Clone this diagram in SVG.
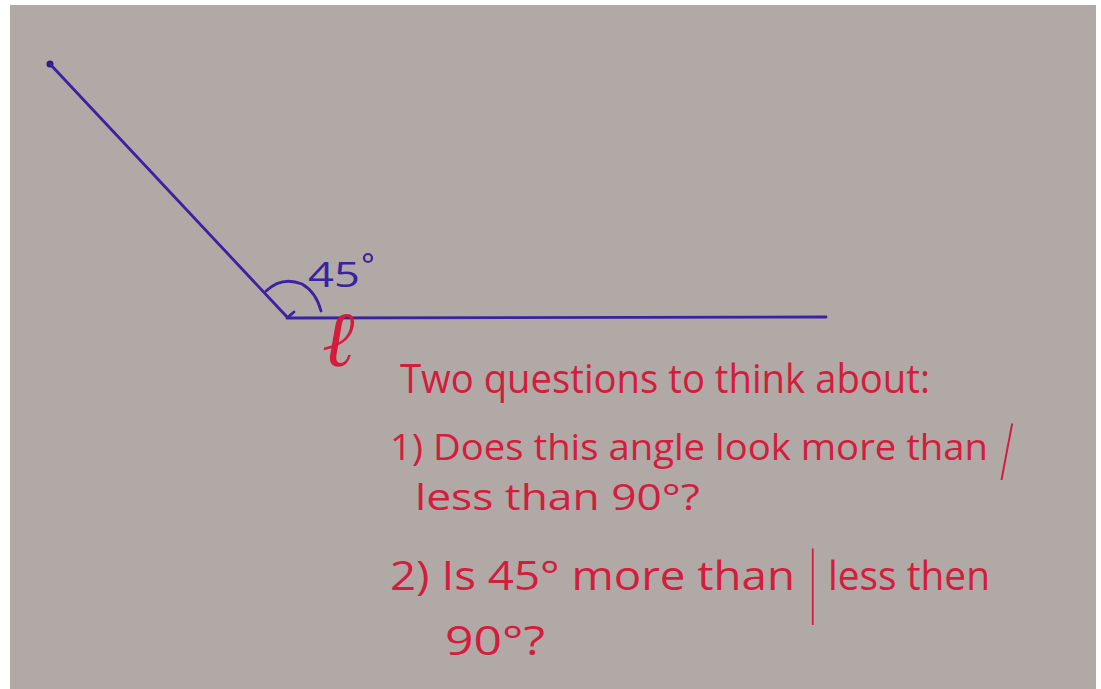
<svg xmlns="http://www.w3.org/2000/svg" width="1101" height="689" viewBox="0 0 1101 689">
<style>
.blue{stroke:#3a22a0;fill:none;stroke-width:2.8;stroke-linecap:round}
.bt{fill:#3a22a0;font-family:"Open Sans","DejaVu Sans",sans-serif;font-size:34px}
.rt{fill:#d41c3c;font-family:"Open Sans","DejaVu Sans",sans-serif;font-size:40px}
.sm{font-size:37px}
.sep{fill:#d41c3c;font-family:"Open Sans","DejaVu Sans",sans-serif;font-size:40px;font-weight:300}
</style>
<rect width="1101" height="689" fill="#ffffff"/>
<rect x="10" y="5" width="1086" height="684" fill="#b0a9a6"/>
<g id="angle">
<circle cx="50" cy="64" r="3.5" fill="#2a1a80"/>
<path class="blue" d="M50 64 L288 318 L826 317"/>
<path class="blue" d="M266 291 Q282 276 302 284 Q316 292 321 311"/>
<path class="blue" d="M287 318 L294 312"/>
<text class="bt" x="308" y="287" textLength="52" lengthAdjust="spacingAndGlyphs">45</text>
<circle cx="368" cy="258" r="4" fill="none" stroke="#3a22a0" stroke-width="2.2"/>
</g>
<g id="label-l">
<text x="322" y="366" fill="#d41c3c" font-family="DejaVu Serif,serif" font-size="78" font-style="italic">ℓ</text>
</g>
<g id="questions">
<text class="rt" x="400" y="393" textLength="530" lengthAdjust="spacingAndGlyphs">Two questions to think about:</text>
<text class="rt sm" x="390" y="460" textLength="598" lengthAdjust="spacingAndGlyphs">1) Does this angle look more than</text>
<text class="sep" transform="translate(1000 480) scale(1 2)" x="0" y="0">/</text>
<text class="rt sm" x="415" y="510" textLength="285" lengthAdjust="spacingAndGlyphs">less than 90°?</text>
<text class="rt" x="390" y="590" textLength="405" lengthAdjust="spacingAndGlyphs">2) Is 45° more than</text>
<text class="sep" transform="translate(802 606) scale(1 1.9)" x="0" y="0">|</text>
<text class="rt" x="828" y="590" textLength="162" lengthAdjust="spacingAndGlyphs">less then</text>
<text class="rt" x="445" y="655" textLength="100" lengthAdjust="spacingAndGlyphs">90°?</text>
</g>
</svg>
